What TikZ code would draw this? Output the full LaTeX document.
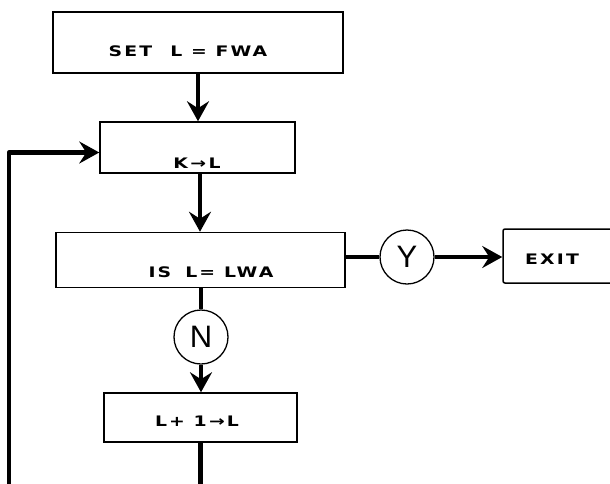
\documentclass[tikz,border=0pt]{standalone}
\usepackage{fontspec}
\setmainfont{Liberation Sans}
\newfontfamily\lett[FakeStretch=1.3,LetterSpace=15]{DejaVu Sans Bold}
\usetikzlibrary{arrows.meta}
\begin{document}
\begin{tikzpicture}[x=1pt,y=-1pt,
  box/.style={draw,line width=1.5pt,rectangle,inner sep=0pt},
  lbl/.style={inner sep=0pt,font=\lett\fontsize{14.5}{17}\selectfont},
  ring/.style={draw,line width=1.3pt,circle,inner sep=0pt,minimum size=54pt,font=\fontsize{31}{34}\selectfont},
  conn/.style={line width=4.8pt},
  arr/.style={conn,-{Stealth[length=20pt,width=22pt,inset=7pt]}}]
\useasboundingbox (0,0) rectangle (610,483);
\clip (0,0) rectangle (610,483);
% boxes
\node[box,minimum width=290pt,minimum height=61pt] (set) at (198,42.5) {};
\node[box,minimum width=195pt,minimum height=51pt] (k) at (197.5,147.5) {};
\node[box,minimum width=289pt,minimum height=55pt] (is) at (200.5,260) {};
\node[box,minimum width=193pt,minimum height=49pt] (inc) at (200.5,417.5) {};
\node[box,minimum width=130pt,minimum height=54pt,rounded corners=2pt] (exit) at (568,256) {};
% labels
\node[lbl] (tset) at (188,51) {SET\hspace{18pt}L = FWA};
\node[lbl] (tk) at (197,163) {K\,→\,L};
\node[lbl] (tis) at (211,272) {IS\hspace{14pt}L= LWA};
\node[lbl] (tinc) at (197,421) {L+ 1→L};
\node[lbl] (texit) at (552,259) {EXIT};
% circles
\node[ring] (y) at (407,257) {Y};
\node[ring] (n) at (201,337) {N};
% connectors
\draw[arr] (set.south) -- (set.south |- k.north);
\draw[arr] ([xshift=2.5pt]k.south) -- ([xshift=2.5pt]k.south |- is.north);
\draw[conn] (n.north |- is.south) -- (n.north);
\draw[arr] (n.south) -- (n.south |- inc.north);
\draw[conn] (y.west -| is.east) -- (y.west);
\draw[arr] (y.east) -- (y.east -| exit.west);
\coordinate (lb) at (9,488);
\draw[arr,line join=round] (inc.south) -- (inc.south |- lb) -- (lb) |- ([yshift=-5pt]k.west);
\end{tikzpicture}
\end{document}
